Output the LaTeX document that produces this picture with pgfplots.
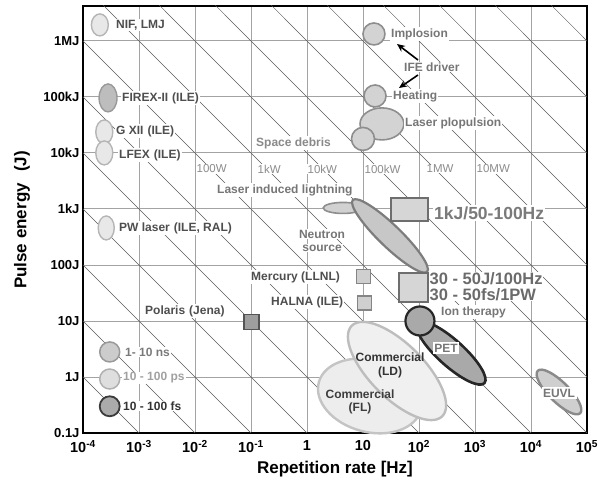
\documentclass[border=0pt]{standalone}
\usepackage{fontspec}
\setmainfont{Liberation Sans}
\usepackage{pgfplots}
\pgfplotsset{compat=1.18}
\usetikzlibrary{arrows.meta}

\definecolor{gridc}{HTML}{A3A3A3}
\definecolor{diagc}{HTML}{5A5A5A}
\definecolor{lfill}{HTML}{E8E8E8}
\definecolor{lbord}{HTML}{B5B5B5}
\definecolor{mfill}{HTML}{D3D3D3}
\definecolor{mbord}{HTML}{8E8E8E}
\definecolor{dfill}{HTML}{A9A9A9}
\definecolor{dbord}{HTML}{262626}
\definecolor{txtg}{HTML}{767676}
\definecolor{txtd}{HTML}{4E4E4E}

\newcommand\fs[1]{\fontsize{#1}{#1}\selectfont\bfseries}

\pgfplotsset{
  diag/.style={draw=diagc, line width=0.5pt, no marks, forget plot},
  blob/.style={only marks, mark=*, forget plot},
  box/.style={only marks, mark=square*, forget plot},
}

\begin{document}
\begin{tikzpicture}
\useasboundingbox (-83pt,-51pt) rectangle (524pt,433pt);
\begin{axis}[
  at={(0pt,0pt)}, anchor=south west,
  scale only axis, width=504pt, height=427pt,
  xmode=log, ymode=log,
  xmin=1e-4, xmax=1e5, ymin=0.1, ymax=4.2e6,
  axis line style={line width=2.4pt, black},
  grid=major, major grid style={draw=gridc, line width=0.9pt},
  major tick length=0pt, minor tick length=0pt,
  xtick={1e-4,1e-3,1e-2,1e-1,1,10,100,1e3,1e4,1e5},
  xticklabels={10\textsuperscript{-4},10\textsuperscript{-3},10\textsuperscript{-2},10\textsuperscript{-1},1,10,10\textsuperscript{2},10\textsuperscript{3},10\textsuperscript{4},10\textsuperscript{5}},
  ytick={0.1,1,10,100,1e3,1e4,1e5,1e6},
  yticklabels={0.1J,1J,10J,100J,1kJ,10kJ,100kJ,1MJ},
  yticklabel style={font=\fs{13}},
  xticklabel style={font=\fs{14.5}, yshift=-4pt},
]
% lines of constant mean power, one per decade
\addplot[diag] coordinates {(1e-5,1e1) (1e6,1e-10)};
\addplot[diag] coordinates {(1e-5,1e2) (1e6,1e-9)};
\addplot[diag] coordinates {(1e-5,1e3) (1e6,1e-8)};
\addplot[diag] coordinates {(1e-5,1e4) (1e6,1e-7)};
\addplot[diag] coordinates {(1e-5,1e5) (1e6,1e-6)};
\addplot[diag] coordinates {(1e-5,1e6) (1e6,1e-5)};
\addplot[diag] coordinates {(1e-5,1e7) (1e6,1e-4)};
\addplot[diag] coordinates {(1e-5,1e8) (1e6,1e-3)};
\addplot[diag] coordinates {(1e-5,1e9) (1e6,1e-2)};
\addplot[diag] coordinates {(1e-5,1e10) (1e6,1e-1)};
\addplot[diag] coordinates {(1e-5,1e11) (1e6,1)};
\addplot[diag] coordinates {(1e-5,1e12) (1e6,1e1)};
\addplot[diag] coordinates {(1e-5,1e13) (1e6,1e2)};
\addplot[diag] coordinates {(1e-5,1e14) (1e6,1e3)};
\addplot[diag] coordinates {(1e-5,1e15) (1e6,1e4)};
\addplot[diag] coordinates {(1e-5,1e16) (1e6,1e5)};

% single-shot facilities (left column)
\addplot[blob, mark size=11pt, mark options={xscale=0.77, draw=lbord, fill=lfill, line width=1.4pt}] coordinates {(2.0e-4,1.93e6)};
\addplot[blob, mark size=14pt, mark options={xscale=0.64, draw=black!40, fill=black!26, line width=1.4pt}] coordinates {(2.8e-4,9.6e4)};
\addplot[blob, mark size=12pt, mark options={xscale=0.71, draw=lbord, fill=lfill, line width=1.4pt}] coordinates {(2.4e-4,2.37e4) (2.4e-4,1.0e4)};
\addplot[blob, mark size=12pt, mark options={xscale=0.67, draw=lbord, fill=lfill, line width=1.4pt}] coordinates {(2.6e-4,458)};

% key circles
\addplot[blob, mark size=10pt, mark options={draw=black!40, fill=black!20, line width=1.5pt}] coordinates {(3.0e-4,2.8)};
\addplot[blob, mark size=10pt, mark options={draw=black!31, fill=black!13, line width=1.5pt}] coordinates {(3.0e-4,0.92)};
\addplot[blob, mark size=10pt, mark options={draw=black!77, fill=black!33, line width=1.8pt}] coordinates {(3.0e-4,0.30)};

% IFE cluster
\addplot[blob, mark size=16pt, mark options={xscale=1.37, draw=mbord, fill=mfill, line width=1.6pt}] coordinates {(21.8,3.3e4)};
\addplot[blob, mark size=11.5pt, mark options={draw=mbord, fill=mfill, line width=1.6pt}] coordinates {(10,1.78e4)};
\addplot[blob, mark size=11pt, mark options={draw=mbord, fill=mfill, line width=1.6pt}] coordinates {(16.4,1.04e5) (15.7,1.33e6)};

% lightning and neutron source
\addplot[blob, mark size=5.5pt, mark options={xscale=3.6, draw=mbord, fill=black!18, line width=1.6pt}] coordinates {(4.4,1042)};
\addplot[blob, mark size=11pt, mark options={rotate=-44, xscale=4.7, draw=black!51, fill=black!22, line width=2.2pt}] coordinates {(30.3,330)};

% high repetition rate targets
\addplot[box, mark size=11.5pt, mark options={xscale=1.6, draw=black!57, fill=black!16, line width=2.6pt}] coordinates {(67.7,980)};
\addplot[box, mark size=14.5pt, mark options={draw=black!57, fill=black!16, line width=2.6pt}] coordinates {(79.8,39.6)};
\addplot[box, mark size=7pt, mark options={draw=black!48, fill=black!19, line width=1.6pt}] coordinates {(10.2,62.3) (10.6,21)};
\addplot[box, mark size=7.5pt, mark options={draw=black!67, fill=black!38, line width=1.6pt}] coordinates {(0.102,9.6)};

% commercial lasers
\addplot[blob, mark size=36pt, mark options={rotate=-15, xscale=1.47, draw=black!23, fill=black!7, line width=2.4pt}] coordinates {(13.3,0.458)};
\addplot[blob, mark size=27pt, mark options={rotate=-45, xscale=2.37, draw=black!26, fill=black!6, line width=2.4pt}] coordinates {(40.5,1.28)};

% medical
\addplot[blob, mark size=13pt, mark options={rotate=-42, xscale=3.46, draw=dbord, fill=dfill, line width=2.6pt}] coordinates {(373,2.68)};
\addplot[blob, mark size=14.5pt, mark options={draw=dbord, fill=dfill, line width=2.2pt}] coordinates {(104,10)};

% EUVL
\addplot[blob, mark size=10pt, mark options={rotate=-45, xscale=3.0, draw=black!46, fill=black!19, line width=2.4pt}] coordinates {(3.16e4,0.54)};
\end{axis}

% annotations, placed in reference pixel units
\begin{scope}[shift={(-83pt,433pt)}, x=1pt, y=-1pt,
  every node/.style={inner sep=1pt, fill=white, text=txtg, font=\fs{12}}]
\node[anchor=west, text=txtd] at (115,25) {NIF, LMJ};
\node[anchor=west, text=txtd] at (121,98) {FIREX-II\,\,(ILE)};
\node[anchor=west, text=txtd] at (115,131) {G XII\,\,(ILE)};
\node[anchor=west, text=txtd] at (118,155) {LFEX\,\,(ILE)};
\node[anchor=west, text=txtd] at (118,228) {PW laser\,\,(ILE, RAL)};
\node[anchor=west, text=black!52] at (124,352) {1- 10 ns};
\node[anchor=west, text=black!37] at (122,378) {10 - 100 ps};
\node[anchor=west, text=black!80] at (122,406) {10 - 100 fs};
\node[anchor=west, text=txtd] at (144,311) {Polaris\,\,(Jena)};
\node[anchor=west, text=txtd] at (250,277) {Mercury (LLNL)};
\node[anchor=west, text=txtd] at (270,302) {HALNA (ILE)};
\node[anchor=west] at (216,190) {Laser induced lightning};
\node at (322,234) {Neutron};
\node at (322,248) {source};
\node[anchor=west, text=black!46] at (255,143) {Space debris};
\node[anchor=west] at (390,34) {Implosion};
\node[anchor=west] at (403,67) {IFE driver};
\node[anchor=west] at (392,96) {Heating};
\node[anchor=west] at (404,123) {Laser plopulsion};
\node[anchor=west, font=\fs{17.5}, text=black!52] at (433,213) {1kJ/50-100Hz};
\node[anchor=west, font=\fontsize{16.5}{16.5}\selectfont\bfseries, text=black!58,
      align=left, inner sep=0.5pt] at (429,286.5) {30 - 50J/100Hz\\30 - 50fs/1PW};
\node[anchor=west] at (440,312) {Ion therapy};
\node[inner sep=1.5pt] at (446,348) {PET};
\node[fill=none, text=black!80] at (390,357) {Commercial};
\node[fill=none, text=black!80] at (390,372) {(LD)};
\node[fill=none, text=black!76] at (360,394) {Commercial};
\node[fill=none, text=black!76] at (360,408) {(FL)};
\node[inner sep=1.5pt] at (559,393) {EUVL};
\foreach \xx/\tt in {196/100W,257/1kW,307/10kW,364/100kW,426/1MW,476/10MW}
  \node[anchor=west, text=black!45, font=\fontsize{11.5}{12}\selectfont, inner sep=0.5pt] at (\xx,169) {\tt};
\draw[-{Stealth[length=8pt,width=7pt]}, line width=1.6pt] (418,60) -- (397,44);
\draw[-{Stealth[length=8pt,width=7pt]}, line width=1.6pt] (418,75) -- (399,88);
\node[fill=none, text=black, font=\fs{17}, rotate=90] at (22,220) {Pulse energy\,\,\,\,(J)};
\node[fill=none, text=black, font=\fs{17}] at (335,469) {Repetition rate [Hz]};
\end{scope}
\end{tikzpicture}
\end{document}
